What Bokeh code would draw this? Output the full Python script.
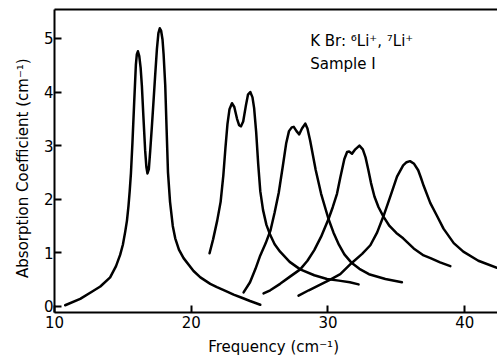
from bokeh.plotting import figure
from bokeh.models import Range1d, FixedTicker, LinearAxis, Label
from bokeh.embed import file_html
from bokeh.resources import INLINE

# Spectrum 1 (double peak near 16-18 cm^-1)
x1 = [10.78, 11.88, 12.85, 13.35, 14.07, 14.5, 14.8, 15.0, 15.17, 15.3, 15.41, 15.5, 15.59, 15.7,
      15.83, 15.95, 16.02, 16.1, 16.2, 16.3, 16.39, 16.5, 16.63, 16.72, 16.8, 16.9, 17.0, 17.12,
      17.24, 17.36, 17.49, 17.6, 17.7, 17.8, 17.9, 17.98, 18.1, 18.2, 18.3, 18.45, 18.65, 18.83,
      19.1, 19.44, 20.17, 20.67, 21.39, 21.88, 22.5, 23.1, 23.7, 24.3, 25.05]
y1 = [0.02, 0.14, 0.29, 0.37, 0.54, 0.75, 0.96, 1.15, 1.39, 1.6, 1.87, 2.15, 2.48, 3.05,
      3.82, 4.5, 4.7, 4.76, 4.67, 4.45, 4.12, 3.55, 2.91, 2.6, 2.48, 2.56, 2.9, 3.35,
      3.82, 4.3, 4.8, 5.1, 5.19, 5.14, 4.98, 4.7, 4.12, 3.3, 2.5, 1.95, 1.5, 1.27,
      1.06, 0.9, 0.66, 0.54, 0.42, 0.36, 0.29, 0.22, 0.16, 0.1, 0.03]

# Spectrum 2
x2 = [21.34, 21.6, 21.9, 22.15, 22.35, 22.5, 22.65, 22.8, 22.98, 23.15, 23.35, 23.5, 23.64, 23.8,
      24.0, 24.15, 24.32, 24.48, 24.6, 24.75, 24.9, 25.05, 25.25, 25.5, 25.78, 26.1, 26.5, 27.2,
      27.97, 29.0, 29.93, 30.8, 31.6, 32.24]
y2 = [0.99, 1.25, 1.6, 1.95, 2.45, 2.95, 3.4, 3.68, 3.79, 3.72, 3.5, 3.38, 3.36, 3.45,
      3.75, 3.95, 4.0, 3.9, 3.7, 3.25, 2.65, 2.15, 1.8, 1.52, 1.33, 1.16, 1.02, 0.83,
      0.69, 0.58, 0.51, 0.48, 0.45, 0.41]

# Spectrum 3
x3 = [23.83, 24.3, 24.7, 25.05, 25.45, 25.8, 26.1, 26.4, 26.7, 26.95, 27.15, 27.35, 27.5, 27.7,
      27.9, 28.1, 28.34, 28.5, 28.7, 28.9, 29.1, 29.5, 30.04, 30.4, 30.8, 31.2, 31.7, 32.3,
      33.0, 34.2, 35.41]
y3 = [0.26, 0.45, 0.7, 0.95, 1.18, 1.42, 1.75, 2.12, 2.62, 3.05, 3.27, 3.34, 3.35, 3.27,
      3.21, 3.32, 3.41, 3.32, 3.09, 2.82, 2.55, 2.1, 1.63, 1.38, 1.15, 0.97, 0.82, 0.7,
      0.6, 0.51, 0.45]

# Spectrum 4
x4 = [25.29, 25.78, 26.5, 27.2, 27.97, 28.5, 29.0, 29.5, 30.04, 30.35, 30.66, 30.9, 31.2, 31.4,
      31.55, 31.76, 32.0, 32.3, 32.55, 32.75, 32.95, 33.15, 33.4, 33.7, 34.07, 34.5, 35.0, 35.5,
      36.27, 37.0, 37.5, 38.2, 38.95]
y4 = [0.24, 0.3, 0.42, 0.55, 0.69, 0.85, 1.05, 1.3, 1.63, 1.85, 2.1, 2.4, 2.75, 2.88,
      2.89, 2.85, 2.93, 3.0, 2.93, 2.78, 2.55, 2.3, 2.05, 1.85, 1.67, 1.5, 1.37, 1.27,
      1.08, 0.95, 0.9, 0.82, 0.75]

# Spectrum 5
x5 = [27.85, 28.6, 29.4, 30.17, 30.9, 31.7, 32.5, 33.1, 33.6, 34.07, 34.6, 35.05, 35.5, 35.75,
      36.0, 36.3, 36.6, 36.8, 37.0, 37.48, 37.97, 38.45, 39.2, 39.9, 41.0, 42.36]
y5 = [0.2, 0.3, 0.4, 0.5, 0.6, 0.8, 0.98, 1.14, 1.38, 1.69, 2.08, 2.42, 2.63, 2.69,
      2.71, 2.66, 2.54, 2.4, 2.25, 1.93, 1.69, 1.45, 1.18, 1.02, 0.85, 0.72]

x_ticks = [10, 20, 30, 40]
y_ticks = [0, 1, 2, 3, 4, 5]

FONT = "DejaVu Sans"

p = figure(width=497, height=358, output_backend="svg", toolbar_location=None,
           x_range=Range1d(10, 42.4), y_range=Range1d(-0.115, 5.54),
           min_border_left=54, min_border_right=0, min_border_top=9, min_border_bottom=39)
p.outline_line_color = None
p.xgrid.visible = False
p.ygrid.visible = False
p.background_fill_color = "white"
p.border_fill_color = "white"

for xs, ys in [(x1, y1), (x2, y2), (x3, y3), (x4, y4), (x5, y5)]:
    p.line(xs, ys, line_color="black", line_width=2.5, line_join="round", line_cap="round")

for ax in (p.xaxis[0], p.yaxis[0]):
    ax.axis_line_width = 2
    ax.axis_line_color = "black"
    ax.major_tick_in = 7
    ax.major_tick_out = 0
    ax.major_tick_line_width = 2
    ax.minor_tick_line_color = None
    ax.major_label_text_font = FONT
    ax.major_label_text_font_size = "15px"
    ax.major_label_text_color = "black"
    ax.axis_label_text_font = FONT
    ax.axis_label_text_font_size = "15px"
    ax.axis_label_text_font_style = "normal"
    ax.axis_label_text_color = "black"

p.xaxis.ticker = FixedTicker(ticks=x_ticks)
p.yaxis.ticker = FixedTicker(ticks=y_ticks)
p.xaxis.axis_label = "Frequency  (cm\u207b\u00b9)"
p.yaxis.axis_label = "Absorption  Coefficient   (cm\u207b\u00b9)"
p.xaxis.major_label_standoff = 3
p.yaxis.major_label_standoff = 1
p.xaxis.axis_label_standoff = 7
p.yaxis.axis_label_standoff = 9

top = LinearAxis(major_tick_in=0, major_tick_out=0, minor_tick_line_color=None,
                 major_label_text_font_size="0px", axis_line_width=2,
                 ticker=FixedTicker(ticks=[]))
p.add_layout(top, "above")

p.add_layout(Label(x=28.7, y=4.96, text="K Br:  \u2076Li\u207a,  \u2077Li\u207a", text_font=FONT,
                   text_font_size="15px", text_baseline="middle", text_color="black"))
p.add_layout(Label(x=28.7, y=4.53, text="Sample  I", text_font=FONT,
                   text_font_size="15px", text_baseline="middle", text_color="black"))

open("out.html", "w").write(file_html(p, INLINE))
